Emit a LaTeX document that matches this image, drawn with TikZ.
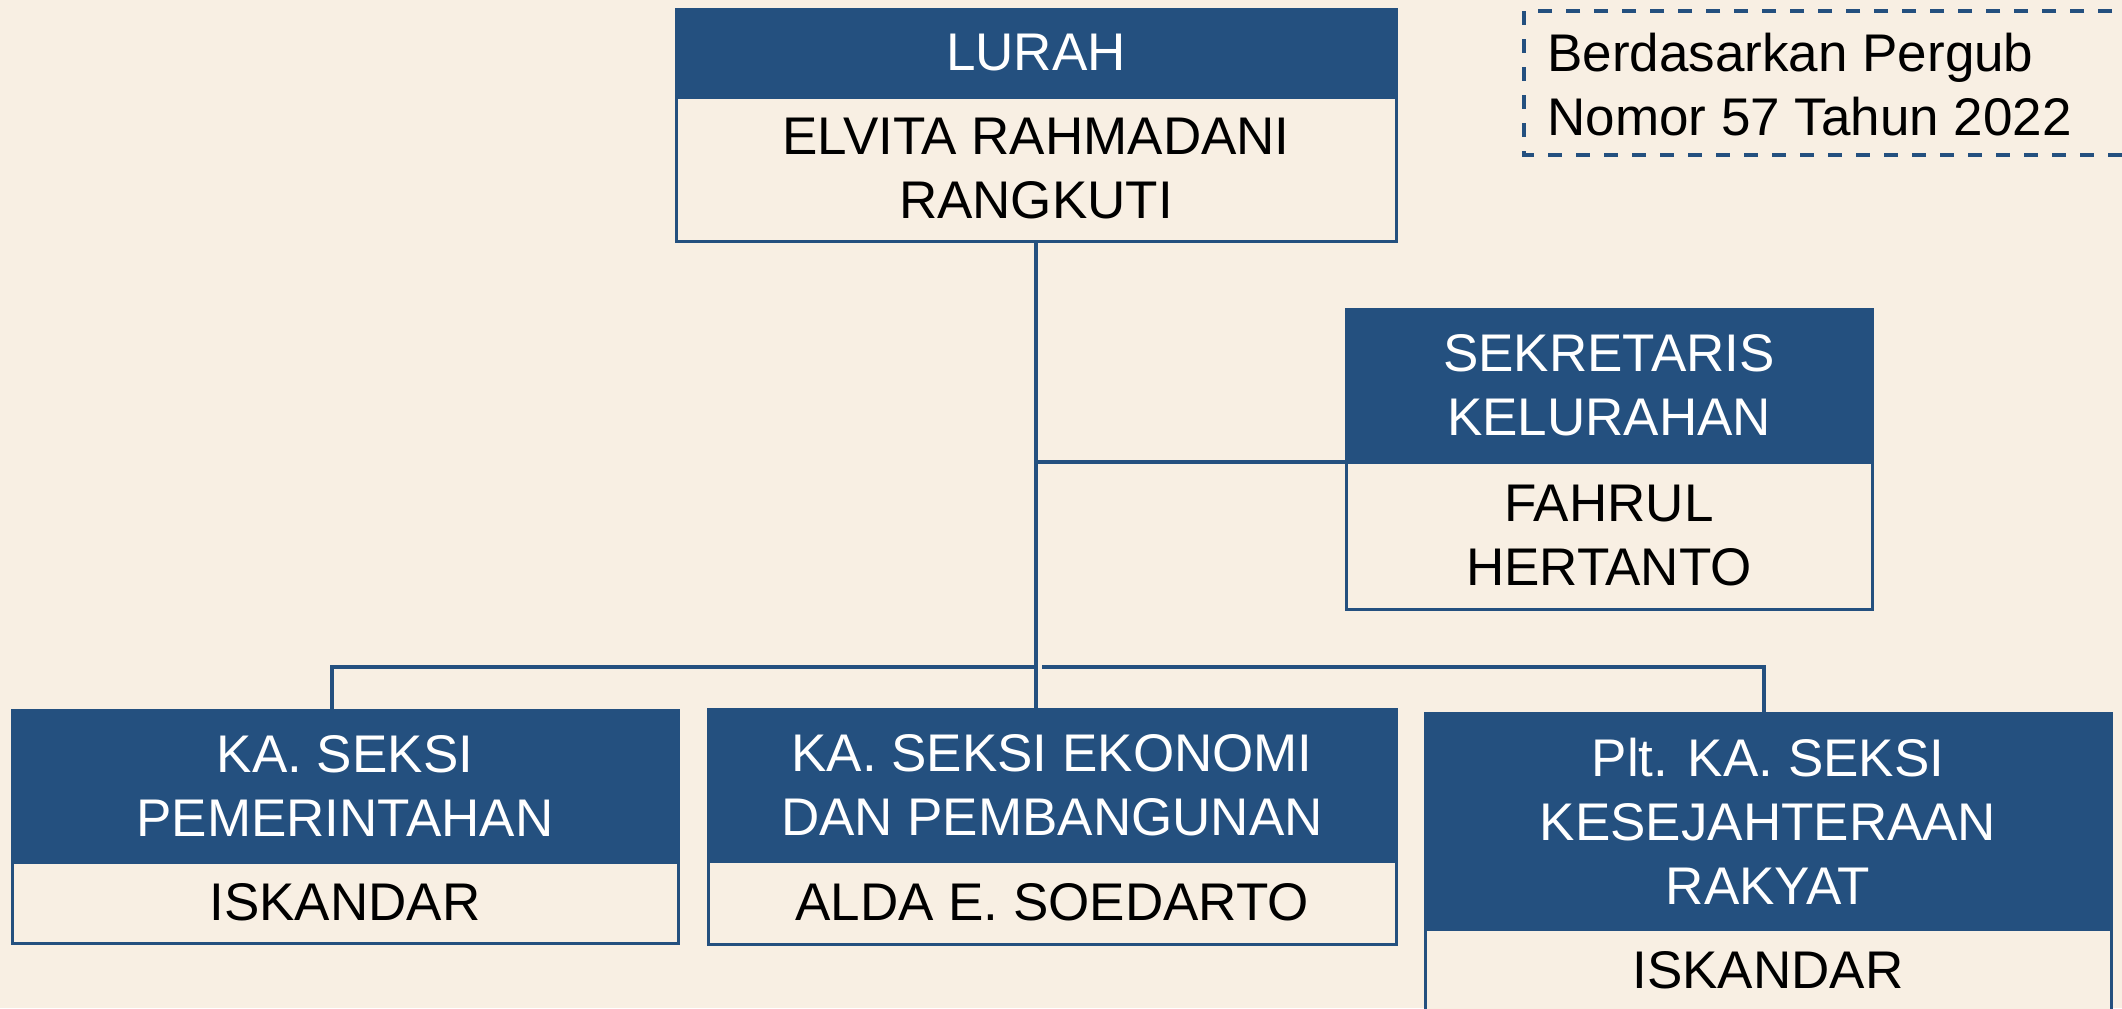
\documentclass[tikz,border=0pt]{standalone}
\usepackage{fontspec}
\setmainfont{Liberation Sans}
\definecolor{cream}{HTML}{F8EFE3}
\definecolor{navy}{HTML}{24507F}
\newcommand{\boxfont}{\fontsize{26.5pt}{32pt}\selectfont}
\begin{document}
\begin{tikzpicture}[x=0.5pt,y=-0.5pt,
  hdr/.style={rectangle, fill=navy, draw=navy, line width=1.5pt, text=white, anchor=north west, inner sep=0pt, outer sep=0pt, align=center, font=\boxfont},
  nm/.style={rectangle, fill=cream, draw=navy, line width=1.5pt, text=black, anchor=north west, inner sep=0pt, outer sep=0pt, align=center, font=\boxfont},
  conn/.style={draw=navy, line width=1.6pt},
  notetxt/.style={anchor=base west, inner sep=0pt, font=\boxfont, text=black}]
\useasboundingbox (0,0) rectangle (2122,1008);
\fill[cream] (0,0) rectangle (2122,1008);
\clip (0,0) rectangle (2122,1008);

\coordinate (busL) at (1036,667);
\coordinate (busR) at (1042,667);

% LURAH
\node[hdr, minimum width=360pt, minimum height=44pt] (lurahH) at (676,9) {LURAH};
\node[nm, minimum width=360pt, minimum height=72pt] (lurahN) at (lurahH.south west) {ELVITA RAHMADANI\\RANGKUTI};

% SEKRETARIS
\node[hdr, minimum width=263pt, minimum height=76.5pt] (sekH) at (1346,309) {SEKRETARIS\\KELURAHAN};
\node[nm, minimum width=263pt, minimum height=73.5pt] (sekN) at (sekH.south west) {FAHRUL\\HERTANTO};

% Bottom row
\node[hdr, minimum width=333pt, minimum height=76pt] (pemH) at (12,710) {KA. SEKSI\\PEMERINTAHAN};
\node[nm, minimum width=333pt, minimum height=40.5pt] (pemN) at (pemH.south west) {ISKANDAR};

\node[hdr, minimum width=344pt, minimum height=76pt] (ekoH) at (708,709) {KA. SEKSI EKONOMI\\DAN PEMBANGUNAN};
\node[nm, minimum width=344pt, minimum height=41.5pt] (ekoN) at (ekoH.south west) {ALDA E. SOEDARTO};

\node[hdr, minimum width=343pt, minimum height=108pt] (kesH) at (1425,713) {Plt. KA. SEKSI\\KESEJAHTERAAN\\RAKYAT};
\node[nm, minimum width=343pt, minimum height=41.5pt] (kesN) at (kesH.south west) {ISKANDAR};

% connectors
\draw[conn] (lurahN.south) -- (lurahN.south |- ekoH.north);
\draw[conn] (lurahN.south |- sekN.north west) -- (sekN.north west);
\draw[conn] (busL) -| ([xshift=-6.5pt]pemH.north);
\draw[conn] (busR) -| ([xshift=-2pt]kesH.north);

% note
\draw[navy, line width=1.6pt, dash pattern=on 7pt off 7pt] (2140,11) -- (1524,11) -- (1524,155) -- (2140,155);
\node[notetxt] (note1) at (1547,71) {Berdasarkan Pergub};
\node[notetxt] (note2) at (1547,135) {Nomor 57 Tahun 2022};
\end{tikzpicture}
\end{document}
